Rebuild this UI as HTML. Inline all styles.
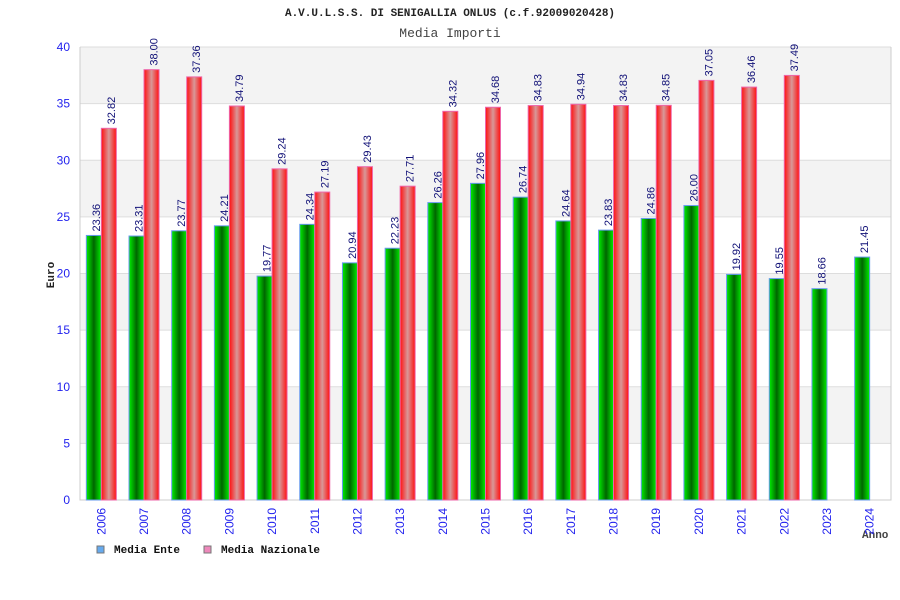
<!DOCTYPE html>
<html><head><meta charset="utf-8"><style>body{margin:0;background:#fff}svg{display:block}</style></head>
<body>
<svg id="c" width="900" height="600" xmlns="http://www.w3.org/2000/svg">
<defs>
<linearGradient id="gG" x1="0" x2="1"><stop offset="0" stop-color="#00ee00"/><stop offset="0.5" stop-color="#006600"/><stop offset="1" stop-color="#00ee00"/></linearGradient>
<linearGradient id="gR" x1="0" x2="1"><stop offset="0" stop-color="#ff1010"/><stop offset="0.5" stop-color="#d89898"/><stop offset="1" stop-color="#ff1010"/></linearGradient>
</defs>
<text x="450" y="16" text-anchor="middle" font-family="Liberation Mono, monospace" font-weight="bold" font-size="11" fill="#222">A.V.U.L.S.S. DI SENIGALLIA ONLUS (c.f.92009020428)</text>
<text x="450" y="37" text-anchor="middle" font-family="Liberation Mono, monospace" font-size="13" fill="#444">Media Importi</text>
<text transform="translate(54,275) rotate(-90)" text-anchor="middle" font-family="Liberation Mono, monospace" font-weight="bold" font-size="11" fill="#222">Euro</text>
<text x="862" y="538" font-family="Liberation Mono, monospace" font-weight="bold" font-size="11" fill="#444">Anno</text>
<g id="plot"></g>
<g>
<rect x="97" y="546" width="7" height="7" fill="#66aaee" stroke="#777"/>
<text x="114" y="553" font-family="Liberation Mono, monospace" font-weight="bold" font-size="11" fill="#111">Media Ente</text>
<rect x="204" y="546" width="7" height="7" fill="#ee88bb" stroke="#777"/>
<text x="221" y="553" font-family="Liberation Mono, monospace" font-weight="bold" font-size="11" fill="#111">Media Nazionale</text>
</g>
</svg>
<script>
const categories=['2006','2007','2008','2009','2010','2011','2012','2013','2014','2015','2016','2017','2018','2019','2020','2021','2022','2023','2024'];
const ente=[23.36,23.31,23.77,24.21,19.77,24.34,20.94,22.23,26.26,27.96,26.74,24.64,23.83,24.86,26.00,19.92,19.55,18.66,21.45];
const nazionale=[32.82,38.00,37.36,34.79,29.24,27.19,29.43,27.71,34.32,34.68,34.83,34.94,34.83,34.85,37.05,36.46,37.49,null,null];
const yTicks=[0,5,10,15,20,25,30,35,40];
const NS='http://www.w3.org/2000/svg';
const L=80,R=891,T=47,B=500,yMax=40;
const y=v=>B-(v/yMax)*(B-T);
const gw=(R-L)/categories.length;
const x=i=>L+i*gw;
const g=document.getElementById('plot');
function mk(tag,attrs,parent){const e=document.createElementNS(NS,tag);for(const k in attrs)e.setAttribute(k,attrs[k]);(parent||g).appendChild(e);return e;}
for(let i=0;i<yTicks.length-1;i++){
  if(i%2===1){const r=mk('rect',{x:L,y:y(yTicks[i+1]),width:R-L,height:y(yTicks[i])-y(yTicks[i+1]),fill:'#f3f3f3'});
  
  }
}
yTicks.forEach(t=>{
  const l=mk('line',{x1:L,x2:R,y1:y(t),y2:y(t),stroke:'#dddddd'});
  
  
  const tx=mk('text',{x:L-10,y:y(t)+4,'text-anchor':'end','font-family':'Liberation Sans, sans-serif','font-size':'12',fill:'#2222ee'});
  tx.textContent=t;
  
  
});
const ax=mk('path',{d:`M${L},${T}V${B}H${R}V${T}`,fill:'none',stroke:'#cccccc'});


const bw=15;
function bar(i,v,off,fill,stroke,name){
  const cx=x(i)+gw/2+off;
  const r=mk('rect',{x:cx,y:y(v),width:bw,height:B-y(v),fill:fill,stroke:stroke,'stroke-width':1});
  
  
  const tx=mk('text',{transform:`translate(${cx+bw/2+6},${y(v)-4}) rotate(-90)`,'font-family':'Liberation Sans, sans-serif','font-size':'11',fill:'#111177'});
  tx.textContent=v.toFixed(2);
  
  
}
categories.forEach((c,i)=>{
  bar(i,ente[i],-bw,'url(#gG)','#6699ee','bar-ente-'+c);
  if(nazionale[i]!=null)bar(i,nazionale[i],0,'url(#gR)','#ee66aa','bar-nazionale-'+c);
  const tx=mk('text',{transform:`translate(${x(i)+gw/2+4},${B+8}) rotate(-90)`,'text-anchor':'end','font-family':'Liberation Sans, sans-serif','font-size':'12',fill:'#2222ee'});
  tx.textContent=c;
  
  
});
</script>
</body></html>
